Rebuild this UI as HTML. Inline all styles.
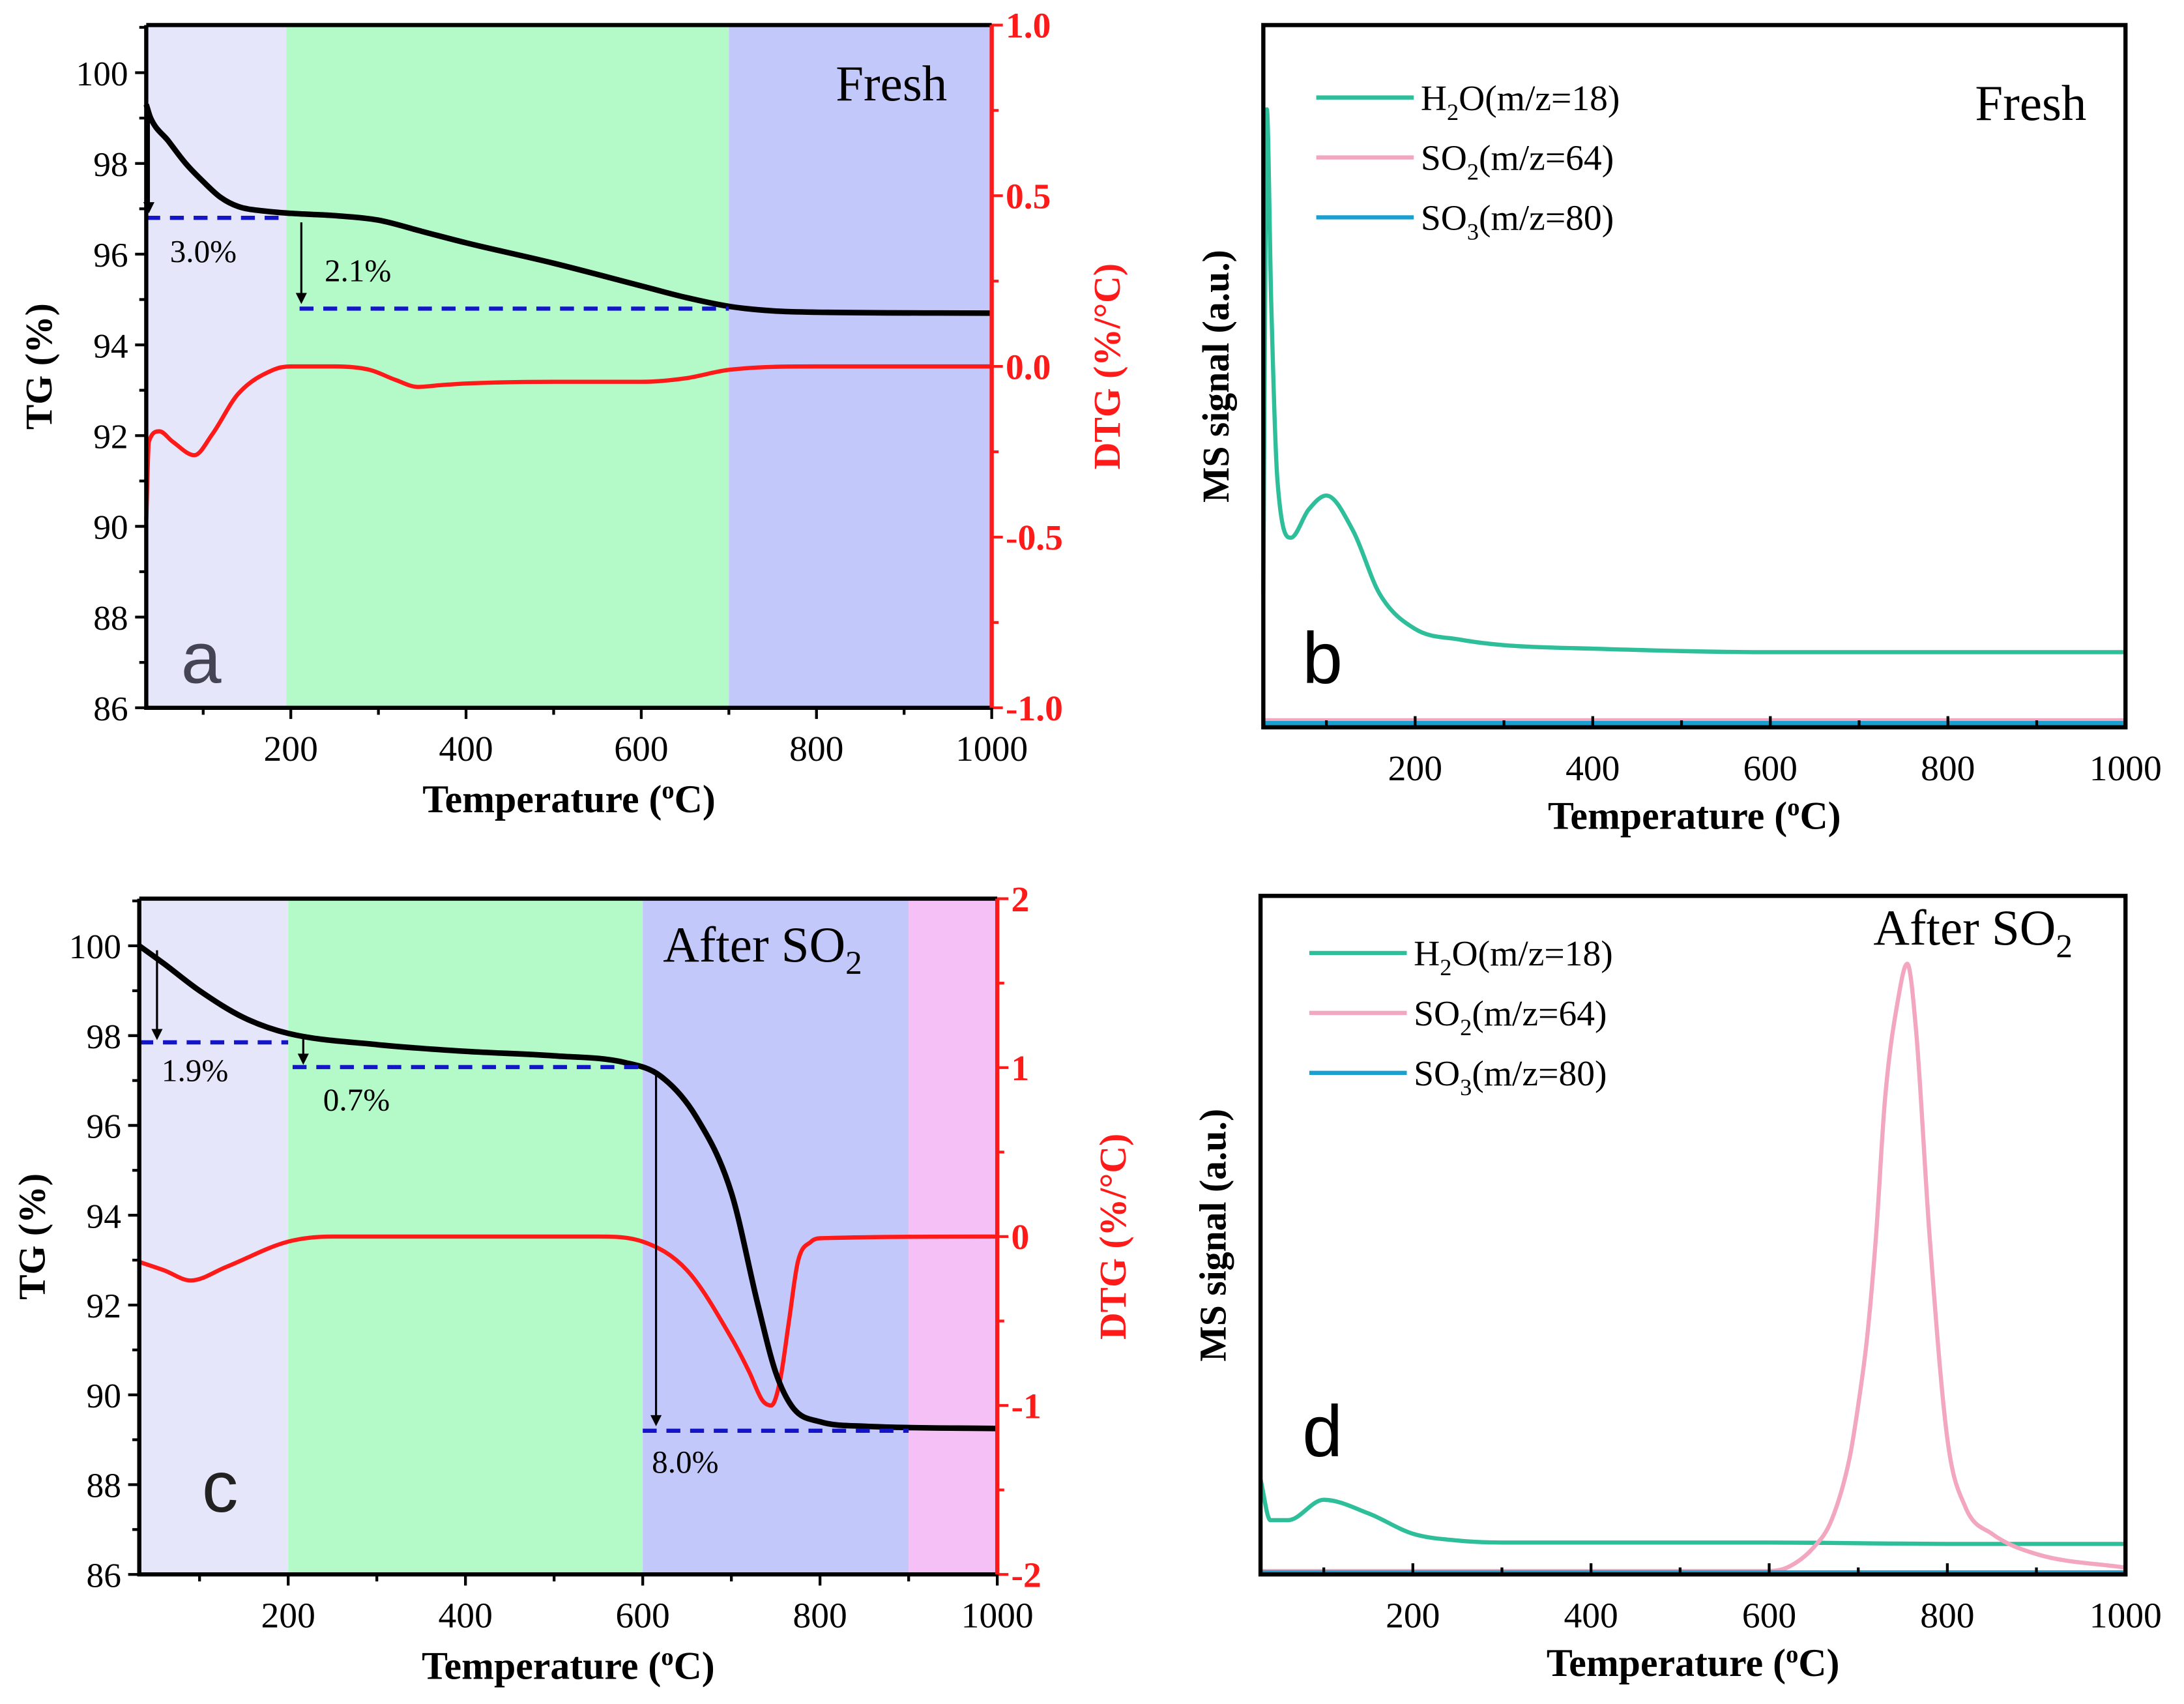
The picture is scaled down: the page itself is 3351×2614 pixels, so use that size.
<!DOCTYPE html>
<html><head><meta charset="utf-8"><style>
html,body{margin:0;padding:0;background:#fff;}
svg{display:block;}
</style></head><body>
<svg id="fig" xmlns="http://www.w3.org/2000/svg" width="3351" height="2614" viewBox="0 0 1568 1223" preserveAspectRatio="none" font-family="'Liberation Serif', serif"></svg>
<script>
// ---- Data (temperature °C, values) ----
const tgaT = [35,40,60,80,100,120,140,170,200,250,300,350,400,500,600,650,700,750,800,1000];
const tgaTG = [99.3,99.0,98.5,98.0,97.6,97.25,97.05,96.95,96.9,96.85,96.75,96.5,96.25,95.8,95.3,95.05,94.85,94.75,94.72,94.7];
const tgaDT = [35,38,50,65,90,110,140,180,200,250,290,320,345,370,400,500,600,650,700,800,1000];
const tgaDTG = [-0.45,-0.22,-0.19,-0.22,-0.26,-0.2,-0.08,-0.01,0,0,-0.01,-0.04,-0.06,-0.055,-0.05,-0.045,-0.045,-0.035,-0.01,0,0];

const tgcT = [32,60,100,150,200,300,400,500,580,620,660,700,730,750,770,800,850,1000];
const tgcTG = [100,99.6,99.0,98.4,98.05,97.8,97.65,97.55,97.4,97.1,96.2,94.5,92.0,90.5,89.7,89.4,89.3,89.25];
const tgcDT = [32,60,90,130,200,250,550,600,650,700,720,735,745,755,765,775,790,800,1000];
const tgcDTG = [-0.15,-0.2,-0.26,-0.18,-0.03,0,0,-0.03,-0.2,-0.6,-0.8,-0.97,-1.0,-0.85,-0.5,-0.15,-0.03,-0.01,0];

const msbT = [29,31,33,38,45,60,80,100,130,160,200,250,300,400,600,800,1000];
const msbH2O = [0.19,0.6,0.88,0.6,0.35,0.27,0.31,0.33,0.28,0.19,0.14,0.125,0.117,0.112,0.107,0.107,0.107];
const msbSO2T = [29,1000];
const msbSO2 = [0.01,0.01];
const msbSO3 = [0.006,0.006];

const msdT = [29,40,60,100,150,200,250,300,600,800,1000];
const msdH2O = [0.14,0.08,0.08,0.11,0.09,0.06,0.05,0.047,0.047,0.045,0.045];
const msdSO2T = [29,600,620,650,670,690,700,710,720,730,745,755,765,780,800,820,850,900,1000];
const msdSO2 = [0.005,0.005,0.01,0.04,0.08,0.17,0.25,0.35,0.5,0.7,0.85,0.9,0.8,0.5,0.2,0.1,0.06,0.03,0.01];
const msdSO3T = [29,1000];
const msdSO3 = [0.003,0.003];

const xTicks = [200,400,600,800,1000];
const tgTicks = [86,88,90,92,94,96,98,100];
const dtgTicksA = [-1.0,-0.5,0.0,0.5,1.0];
const dtgTicksC = [-2,-1,0,1,2];

const NS = "http://www.w3.org/2000/svg";
const SERIF = "'Liberation Serif', serif";
const svg = document.getElementById('fig');
function el(tag, attrs, parent, txt){
  const e = document.createElementNS(NS, tag);
  for (const k in attrs) e.setAttribute(k, attrs[k]);
  if (txt !== undefined) e.textContent = txt;
  (parent||svg).appendChild(e);
  return e;
}
function lin(d0,d1,r0,r1){ return v => r0 + (v-d0)*(r1-r0)/(d1-d0); }
function smoothPath(px, py){
  const n = px.length;
  if (n < 3){ let d=''; px.forEach((x,i)=>{d+=(i?'L':'M')+x.toFixed(2)+','+py[i].toFixed(2);}); return d; }
  const dx=[], s=[];
  for (let i=0;i<n-1;i++){ dx.push(px[i+1]-px[i]); s.push((py[i+1]-py[i])/dx[i]); }
  const m=[s[0]];
  for (let i=1;i<n-1;i++){ m.push(s[i-1]*s[i]<=0?0:(s[i-1]+s[i])/2); }
  m.push(s[n-2]);
  for (let i=0;i<n-1;i++){
    if (s[i]===0){ m[i]=0; m[i+1]=0; continue; }
    const a=m[i]/s[i], b=m[i+1]/s[i], h=a*a+b*b;
    if (h>9){ const t=3/Math.sqrt(h); m[i]=t*a*s[i]; m[i+1]=t*b*s[i]; }
  }
  let d='M'+px[0].toFixed(2)+','+py[0].toFixed(2);
  for (let i=0;i<n-1;i++){
    const h=dx[i]/3;
    d+='C'+(px[i]+h).toFixed(2)+','+(py[i]+m[i]*h).toFixed(2)+' '+(px[i+1]-h).toFixed(2)+','+(py[i+1]-m[i+1]*h).toFixed(2)+' '+px[i+1].toFixed(2)+','+py[i+1].toFixed(2);
  }
  return d;
}
function poly(xs, ys, sx, sy, color, w, name, parent){
  const d = smoothPath(xs.map(sx), ys.map(sy));
  const p = el('path', {d:d, fill:'none', stroke:color, 'stroke-width':w, 'stroke-linejoin':'round'}, parent);
  
  
  return p;
}
function xAxis(g, sx, y0, inward){
  for (let t=100;t<=1000;t+=100){
    const major = xTicks.includes(t);
    const L = major?8:5;
    const ln = el('line',{x1:sx(t),x2:sx(t),y1:y0,y2:inward?y0-L:y0+L,stroke:'#000','stroke-width':2},g);
    
    
  }
  xTicks.forEach(t=>{
    const tx = el('text',{x:sx(t),y:y0+38,'font-size':26,'text-anchor':'middle','font-family':SERIF},g,String(t));
    
    
  });
}
function xTitle(g, cx, y){
  const t = el('text',{x:cx,y:y,'font-size':28,'font-weight':'bold','text-anchor':'middle','font-family':SERIF},g);
  
  
  t.appendChild(document.createTextNode('Temperature ('));
  el('tspan',{'font-size':18,dy:-10},t,'o');
  el('tspan',{dy:10},t,'C)');
}
function arrow(g, x, y1, y2){
  const a = el('line',{x1:x,x2:x,y1:y1,y2:y2-6,stroke:'#000','stroke-width':1.5},g);
  
  
  const h = el('path',{d:`M${x-4},${y2-8}L${x+4},${y2-8}L${x},${y2}Z`,fill:'#000'},g);
  
  
}
function dash(g, x1, x2, y){
  const d = el('line',{x1:x1,x2:x2,y1:y,y2:y,stroke:'#1515c8','stroke-width':3,'stroke-dasharray':'10,7'},g);
  
  
}
function label(g, x, y, s, size, name, extra){
  const t = el('text',Object.assign({x:x,y:y,'font-size':size,'font-family':SERIF},extra||{}),g,s);
  
  
  return t;
}

function tgPanel(o){
  const g = el('g',{});
  
  
  const sx = lin(o.x0,1000,o.L,o.R);
  const sy = lin(o.ymin,o.ymax,o.B,o.T);
  const sr = lin(o.rmin,o.rmax,o.B,o.T);
  o.bands.forEach(b=>{
    const r = el('rect',{x:sx(Math.max(b[0],o.x0)),y:o.T,width:sx(b[1])-sx(Math.max(b[0],o.x0)),height:o.B-o.T,fill:b[2]},g);
    
    
  });
  poly(o.dT,o.dV,sx,sr,'#ff1a1a',3,'dtg-curve',g);
  poly(o.tT,o.tV,sx,sy,'#000',4,'tg-curve',g);
  o.annot(g,sx,sy);
  const ax = el('path',{d:`M${o.L},${o.T}V${o.B}H${o.R}`,fill:'none',stroke:'#000','stroke-width':3},g);
  
  
  const top = el('line',{x1:o.L,x2:o.R,y1:o.T,y2:o.T,stroke:'#000','stroke-width':3},g);
  
  
  const ra = el('line',{x1:o.R,x2:o.R,y1:o.T,y2:o.B,stroke:'#ff1a1a','stroke-width':3},g);
  
  
  for (let v=o.ymin; v<=o.ymax+0.01; v+=1){
    const major = Math.round(v)%2===0;
    const t = el('line',{x1:o.L,x2:o.L-(major?8:5),y1:sy(v),y2:sy(v),stroke:'#000','stroke-width':2},g);
    
    
  }
  tgTicks.forEach(v=>{
    label(g,o.L-13,sy(v)+9,String(v),25,'tg-tick-label',{'text-anchor':'end'});
  });
  o.rTicks.forEach((v,i)=>{
    const t = el('line',{x1:o.R,x2:o.R+8,y1:sr(v),y2:sr(v),stroke:'#ff1a1a','stroke-width':2},g);
    
    
    if (i<o.rTicks.length-1){
      const m=(v+o.rTicks[i+1])/2;
      const t2 = el('line',{x1:o.R,x2:o.R+5,y1:sr(m),y2:sr(m),stroke:'#ff1a1a','stroke-width':2},g);
      
      
    }
    label(g,o.R+10,sr(v)+9,o.rFmt(v),26,'dtg-tick-label',{fill:'#ff1a1a','font-weight':'bold'});
  });
  xAxis(g,sx,o.B,false);
  xTitle(g,(o.L+o.R)/2,o.B+75);
  label(g,0,0,'TG (%)',27,'y-axis-title',{'font-weight':'bold','text-anchor':'middle',transform:`translate(${o.L-68},${(o.T+o.B)/2}) rotate(-90)`});
  label(g,0,0,'DTG (%/\u00B0C)',27,'y2-axis-title',{'font-weight':'bold','fill':'#ff1a1a','text-anchor':'middle',transform:`translate(${o.R+92},${(o.T+o.B)/2}) rotate(-90)`});
  return g;
}

tgPanel({name:'panel-a', L:105,R:712,T:18,B:508,x0:35,ymin:86,ymax:101.05,rmin:-1,rmax:1,
  bands:[[35,195,'#e6e6fa'],[195,700,'#b4fac8'],[700,1000,'#c3c8fa']],
  tT:tgaT,tV:tgaTG,dT:tgaDT,dV:tgaDTG,rTicks:dtgTicksA,rFmt:v=>v.toFixed(1),
  annot:(g,sx,sy)=>{
    dash(g,sx(35),sx(195),sy(96.8));
    dash(g,sx(210),sx(700),sy(94.8));
    arrow(g,sx(38),sy(99.1),sy(96.9));
    arrow(g,sx(212),sy(96.7),sy(94.9));
    label(g,122,188,'3.0%',23,'loss-label-1');
    label(g,233,202,'2.1%',23,'loss-label-2');
    label(g,600,72,'Fresh',36,'condition-label');
    label(g,130,490,'a',52,'panel-letter',{'font-family':"'Liberation Sans', sans-serif",fill:'#444455'});
  }});

tgPanel({name:'panel-c', L:100,R:716,T:645,B:1130,x0:32,ymin:86,ymax:101.05,rmin:-2,rmax:2,
  bands:[[32,200,'#e6e6fa'],[200,600,'#b4fac8'],[600,900,'#c3c8fa'],[900,1000,'#f5c0f5']],
  tT:tgcT,tV:tgcTG,dT:tgcDT,dV:tgcDTG,rTicks:dtgTicksC,rFmt:v=>String(v),
  annot:(g,sx,sy)=>{
    dash(g,sx(32),sx(200),sy(97.85));
    dash(g,sx(205),sx(600),sy(97.3));
    dash(g,sx(600),sx(900),sy(89.2));
    arrow(g,sx(52),sy(99.9),sy(97.9));
    arrow(g,sx(217),sy(98.0),sy(97.35));
    arrow(g,sx(615),sy(97.2),sy(89.3));
    label(g,116,776,'1.9%',23,'loss-label-1');
    label(g,232,797,'0.7%',23,'loss-label-2');
    label(g,468,1057,'8.0%',23,'loss-label-3');
    const t = label(g,476,690,'After SO',36,'condition-label');
    el('tspan',{'font-size':24,dy:9},t,'2');
    label(g,145,1085,'c',52,'panel-letter',{'font-family':"'Liberation Sans', sans-serif",fill:'#222'});
  }});

function msPanel(o){
  const g = el('g',{});
  
  
  const sx = lin(o.x0,1000,o.L,o.R);
  const sy = lin(0,1,o.B,o.T);
  o.series.forEach(s=>poly(s.t,s.v,sx,sy,s.c,3,s.n,g));
  const box = el('rect',{x:o.L,y:o.T,width:o.R-o.L,height:o.B-o.T,fill:'none',stroke:'#000','stroke-width':3},g);
  
  
  xAxis(g,sx,o.B,true);
  xTitle(g,(o.L+o.R)/2,o.B+73);
  label(g,0,0,'MS signal (a.u.)',27,'y-axis-title',{'font-weight':'bold','text-anchor':'middle',transform:`translate(${o.L-25},${(o.T+o.B)/2}) rotate(-90)`});
  const names=[['H','2','O(m/z=18)'],['SO','2','(m/z=64)'],['SO','3','(m/z=80)']];
  o.series.forEach((s,i)=>{
    const y = o.legY+i*43;
    const l = el('line',{x1:o.legX,x2:o.legX+70,y1:y,y2:y,stroke:s.c,'stroke-width':3},g);
    
    
    const t = label(g,o.legX+75,y+9,names[i][0],26,'legend-entry');
    el('tspan',{'font-size':17,dy:7},t,names[i][1]);
    el('tspan',{dy:-7},t,names[i][2]);
  });
  o.annot(g);
}
msPanel({name:'panel-b',L:907,R:1526,T:18,B:522,x0:29,legX:945,legY:70,
  series:[{t:msbT,v:msbH2O,c:'#2ebf9a',n:'h2o-curve'},{t:msbSO2T,v:msbSO2,c:'#f2a6c0',n:'so2-curve'},{t:msbSO2T,v:msbSO3,c:'#1aa0d0',n:'so3-curve'}],
  annot:g=>{
    label(g,1418,86,'Fresh',36,'condition-label');
    label(g,935,490,'b',52,'panel-letter',{'font-family':"'Liberation Sans', sans-serif"});
  }});
msPanel({name:'panel-d',L:905,R:1526,T:643,B:1130,x0:29,legX:940,legY:684,
  series:[{t:msdT,v:msdH2O,c:'#2ebf9a',n:'h2o-curve'},{t:msdSO2T,v:msdSO2,c:'#f2a6c0',n:'so2-curve'},{t:msdSO3T,v:msdSO3,c:'#1aa0d0',n:'so3-curve'}],
  annot:g=>{
    const t = label(g,1345,678,'After SO',36,'condition-label');
    el('tspan',{'font-size':24,dy:9},t,'2');
    label(g,935,1045,'d',52,'panel-letter',{'font-family':"'Liberation Sans', sans-serif"});
  }});
</script>
</body></html>
